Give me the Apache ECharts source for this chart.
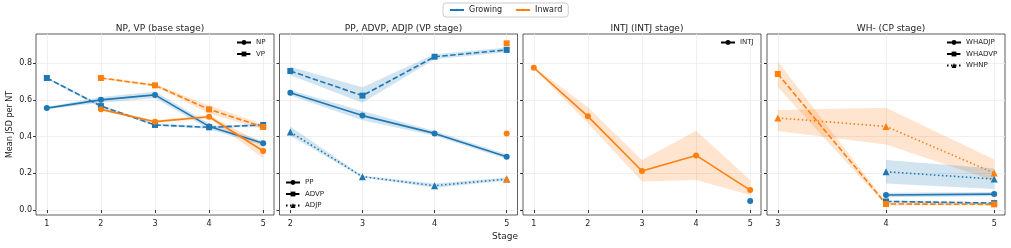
<!DOCTYPE html>
<html>
<head>
<meta charset="utf-8">
<script src="https://cdn.jsdelivr.net/npm/echarts@6/dist/echarts.min.js"></script>
<style>
  html, body { margin: 0; padding: 0; background: #fff; }
  #main { width: 1011px; height: 248px; }
</style>
</head>
<body>
<div id="main"></div>
<script>
// colours
var BLUE = '#1f77b4';
var ORANGE = '#ff7f0e';

// tick labels
var yTicks = [0, 0.2, 0.4, 0.6, 0.8];
var titles = ['NP, VP (base stage)', 'PP, ADVP, ADJP (VP stage)', 'INTJ (INTJ stage)', 'WH- (CP stage)'];

// panel 1 : NP, VP
var p1GrowX = [1, 2, 3, 4, 5];
var npGrow = [0.556, 0.601, 0.628, 0.456, 0.364];
var npGrowLo = [0.550, 0.585, 0.610, 0.440, 0.352];
var npGrowHi = [0.562, 0.617, 0.646, 0.472, 0.376];
var vpGrow = [0.720, 0.567, 0.464, 0.451, 0.464];
var vpGrowLo = [0.715, 0.560, 0.458, 0.444, 0.457];
var vpGrowHi = [0.725, 0.574, 0.470, 0.458, 0.471];
var p1InwX = [2, 3, 4, 5];
var npInw = [0.549, 0.482, 0.509, 0.322];
var npInwLo = [0.543, 0.474, 0.500, 0.282];
var npInwHi = [0.555, 0.490, 0.518, 0.362];
var vpInw = [0.720, 0.680, 0.549, 0.453];
var vpInwLo = [0.715, 0.672, 0.528, 0.438];
var vpInwHi = [0.725, 0.688, 0.570, 0.468];

// panel 2 : PP, ADVP, ADJP
var p2GrowX = [2, 3, 4, 5];
var advpGrow = [0.758, 0.624, 0.836, 0.873];
var advpGrowLo = [0.735, 0.585, 0.822, 0.860];
var advpGrowHi = [0.782, 0.670, 0.850, 0.886];
var ppGrow = [0.640, 0.515, 0.418, 0.291];
var ppGrowLo = [0.625, 0.490, 0.405, 0.278];
var ppGrowHi = [0.655, 0.540, 0.431, 0.304];
var adjpGrow = [0.425, 0.182, 0.133, 0.169];
var adjpGrowLo = [0.405, 0.177, 0.122, 0.160];
var adjpGrowHi = [0.455, 0.187, 0.145, 0.178];
var p2InwX = [5];
var advpInw = [0.909];
var ppInw = [0.418];
var adjpInw = [0.169];

// panel 3 : INTJ
var p3InwX = [1, 2, 3, 4, 5];
var intjInw = [0.776, 0.511, 0.213, 0.298, 0.109];
var intjInwLo = [0.770, 0.473, 0.155, 0.164, 0.082];
var intjInwHi = [0.782, 0.560, 0.273, 0.433, 0.164];
var p3GrowX = [5];
var intjGrow = [0.049];

// panel 4 : WH-
var p4InwX = [3, 4, 5];
var whadvpInw = [0.742, 0.033, 0.031];
var whadvpInwLo = [0.670, 0.025, 0.025];
var whadvpInwHi = [0.810, 0.042, 0.038];
var whnpInw = [0.502, 0.456, 0.202];
var whnpInwLo = [0.431, 0.358, 0.160];
var whnpInwHi = [0.545, 0.558, 0.276];
var p4GrowX = [4, 5];
var whnpGrow = [0.209, 0.169];
var whnpGrowLo = [0.145, 0.115];
var whnpGrowHi = [0.273, 0.227];
var whadjpGrow = [0.082, 0.087];
var whadjpGrowLo = [0.070, 0.075];
var whadjpGrowHi = [0.094, 0.099];
var whadvpGrow = [0.047, 0.038];
var whadvpGrowLo = [0.042, 0.033];
var whadvpGrowHi = [0.052, 0.043];

var DASH = [5.5, 2.4];
var DOT = [1.5, 2.5];

var gridLefts = [36, 279.5, 523, 767];
var gridW = 238;
var xRanges = [[0.8, 5.2, [1, 2, 3, 4, 5]], [1.85, 5.15, [2, 3, 4, 5]], [0.8, 5.2, [1, 2, 3, 4, 5]], [2.9, 5.1, [3, 4, 5]]];

function pts(xs, ys) {
  return xs.map(function (x, i) { return [x, ys[i]]; });
}

function line(name, gi, xs, ys, color, dash, symbol) {
  return {
    type: 'line', name: name, xAxisIndex: gi, yAxisIndex: gi,
    data: pts(xs, ys), symbol: symbol,
    symbolSize: symbol === 'triangle' ? 7 : 6,
    itemStyle: { color: color }, lineStyle: { color: color, width: 1.6, type: dash },
    z: 4, silent: true, animation: false
  };
}

function band(gi, xs, lo, hi, color) {
  return {
    type: 'custom', xAxisIndex: gi, yAxisIndex: gi, silent: true, z: 1,
    data: [[xs[0], lo[0]]],
    renderItem: function (params, api) {
      var p = [];
      for (var i = 0; i < xs.length; i++) p.push(api.coord([xs[i], hi[i]]));
      for (var j = xs.length - 1; j >= 0; j--) p.push(api.coord([xs[j], lo[j]]));
      return { type: 'polygon', shape: { points: p }, style: { fill: color, opacity: 0.2 } };
    },
    animation: false
  };
}

function dummy(name, dash, symbol) {
  return {
    type: 'line', name: name, xAxisIndex: 0, yAxisIndex: 0, data: [],
    symbol: symbol, symbolSize: 6, itemStyle: { color: '#000' },
    lineStyle: { color: '#000', width: 1.6, type: dash }
  };
}

var grids = [], xAxes = [], yAxes = [], titleArr = [];
for (var g = 0; g < 4; g++) {
  grids.push({ left: gridLefts[g], width: gridW, top: 34, height: 181, show: true, borderColor: '#333', borderWidth: 0.8 });
  xAxes.push({
    type: 'value', gridIndex: g, min: xRanges[g][0], max: xRanges[g][1],
    axisLine: { show: false },
    axisTick: { show: true, length: 3, customValues: xRanges[g][2], lineStyle: { color: '#333' } },
    axisLabel: { customValues: xRanges[g][2], fontSize: 8, color: '#222', margin: 5, fontFamily: 'DejaVu Sans' },
    splitLine: { show: true, lineStyle: { color: '#ebebeb', width: 0.8 } }
  });
  yAxes.push({
    type: 'value', gridIndex: g, min: -0.027, max: 0.96,
    name: g === 0 ? 'Mean JSD per NT' : '', nameLocation: 'middle', nameGap: 22,
    nameTextStyle: { fontSize: 8, color: '#222', fontFamily: 'DejaVu Sans' },
    axisLine: { show: false },
    axisTick: { show: true, length: 3, customValues: yTicks, lineStyle: { color: '#333' } },
    axisLabel: { show: g === 0, customValues: yTicks, fontSize: 8, color: '#222', margin: 4, fontFamily: 'DejaVu Sans',
      formatter: function (v) { return v.toFixed(1); } },
    splitLine: { show: true, lineStyle: { color: '#ebebeb', width: 0.8 } }
  });
  titleArr.push({ text: titles[g], left: gridLefts[g] + gridW / 2, top: 19, textAlign: 'center',
    textStyle: { fontSize: 9, fontWeight: 'normal', color: '#222', fontFamily: 'DejaVu Sans' } });
}

var series = [
  // bands
  band(0, p1GrowX, npGrowLo, npGrowHi, BLUE),
  band(0, p1GrowX, vpGrowLo, vpGrowHi, BLUE),
  band(0, p1InwX, npInwLo, npInwHi, ORANGE),
  band(0, p1InwX, vpInwLo, vpInwHi, ORANGE),
  band(1, p2GrowX, advpGrowLo, advpGrowHi, BLUE),
  band(1, p2GrowX, ppGrowLo, ppGrowHi, BLUE),
  band(1, p2GrowX, adjpGrowLo, adjpGrowHi, BLUE),
  band(2, p3InwX, intjInwLo, intjInwHi, ORANGE),
  band(3, p4InwX, whadvpInwLo, whadvpInwHi, ORANGE),
  band(3, p4InwX, whnpInwLo, whnpInwHi, ORANGE),
  band(3, p4GrowX, whnpGrowLo, whnpGrowHi, BLUE),
  band(3, p4GrowX, whadjpGrowLo, whadjpGrowHi, BLUE),
  band(3, p4GrowX, whadvpGrowLo, whadvpGrowHi, BLUE),
  // lines
  line('NP g', 0, p1GrowX, npGrow, BLUE, 'solid', 'circle'),
  line('VP g', 0, p1GrowX, vpGrow, BLUE, DASH, 'rect'),
  line('NP i', 0, p1InwX, npInw, ORANGE, 'solid', 'circle'),
  line('VP i', 0, p1InwX, vpInw, ORANGE, DASH, 'rect'),
  line('ADVP g', 1, p2GrowX, advpGrow, BLUE, DASH, 'rect'),
  line('PP g', 1, p2GrowX, ppGrow, BLUE, 'solid', 'circle'),
  line('ADJP g', 1, p2GrowX, adjpGrow, BLUE, DOT, 'triangle'),
  line('ADVP i', 1, p2InwX, advpInw, ORANGE, DASH, 'rect'),
  line('PP i', 1, p2InwX, ppInw, ORANGE, 'solid', 'circle'),
  line('ADJP i', 1, p2InwX, adjpInw, ORANGE, DOT, 'triangle'),
  line('INTJ i', 2, p3InwX, intjInw, ORANGE, 'solid', 'circle'),
  line('INTJ g', 2, p3GrowX, intjGrow, BLUE, 'solid', 'circle'),
  line('WHNP g', 3, p4GrowX, whnpGrow, BLUE, DOT, 'triangle'),
  line('WHADJP g', 3, p4GrowX, whadjpGrow, BLUE, 'solid', 'circle'),
  line('WHADVP g', 3, p4GrowX, whadvpGrow, BLUE, DASH, 'rect'),
  line('WHADVP i', 3, p4InwX, whadvpInw, ORANGE, DASH, 'rect'),
  line('WHNP i', 3, p4InwX, whnpInw, ORANGE, DOT, 'triangle'),
  // legend only
  { type: 'line', name: 'Growing', xAxisIndex: 0, yAxisIndex: 0, data: [], symbol: 'none', lineStyle: { color: BLUE, width: 2 }, itemStyle: { color: BLUE } },
  { type: 'line', name: 'Inward', xAxisIndex: 0, yAxisIndex: 0, data: [], symbol: 'none', lineStyle: { color: ORANGE, width: 2 }, itemStyle: { color: ORANGE } },
  dummy('NP', 'solid', 'circle'), dummy('VP', DASH, 'rect'),
  dummy('PP', 'solid', 'circle'), dummy('ADVP', DASH, 'rect'), dummy('ADJP', DOT, 'triangle'),
  dummy('INTJ', 'solid', 'circle'),
  dummy('WHADJP', 'solid', 'circle'), dummy('WHADVP', DASH, 'rect'), dummy('WHNP', DOT, 'triangle')
];

var legText = { fontSize: 7, color: '#222', fontFamily: 'DejaVu Sans' };
function smallLegend(names, left, top) {
  return { data: names, left: left, top: top, orient: 'vertical', itemWidth: 14, itemHeight: 6, itemGap: 4.5,
    padding: 0, textStyle: legText, selectedMode: false };
}

var option = {
  backgroundColor: '#fff',
  animation: false,
  title: titleArr,
  grid: grids,
  xAxis: xAxes,
  yAxis: yAxes,
  legend: [
    { data: ['Growing', 'Inward'], left: 443, top: 3, itemWidth: 14, itemHeight: 3, itemGap: 13,
      padding: [3, 6, 3, 6], borderColor: '#ccc', borderWidth: 1, borderRadius: 3, selectedMode: false,
      textStyle: { fontSize: 8, color: '#222', fontFamily: 'DejaVu Sans' } },
    smallLegend(['NP', 'VP'], 236, 39),
    smallLegend(['PP', 'ADVP', 'ADJP'], 285, 179),
    smallLegend(['INTJ'], 720, 39),
    smallLegend(['WHADJP', 'WHADVP', 'WHNP'], 946, 39)
  ],
  graphic: [
    { type: 'text', left: 492, top: 232, style: { text: 'Stage', fontSize: 9, fill: '#222', fontFamily: 'DejaVu Sans' } }
  ],
  series: series
};

var myChart = echarts.init(document.getElementById('main'));
myChart.setOption(option);
</script>
</body>
</html>
